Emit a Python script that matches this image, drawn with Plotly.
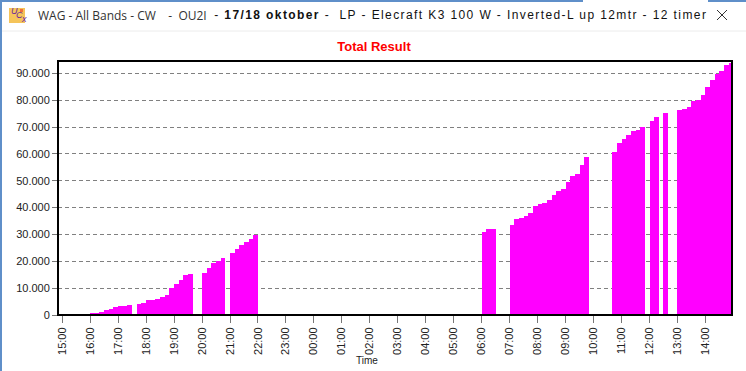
import plotly.graph_objects as go

# 10-minute bins starting at 15:00; 0 means no bar
hours = ["15","16","17","18","19","20","21","22","23","00","01","02","03","04","05","06","07","08","09","10","11","12","13","14"]
tick_labels = [h + ":00" for h in hours]
group_a = [400,400,1100,1900,2200,3000,3300,3400,3700,0,4100,4500,5600,5600,5950,6700,7400,10000,
           11500,13000,14800,15200,0,0,15600,17400,19300,20000,21100,0,23000,24500,26000,27100,28200,29700]
group_b = [30750,31850,32200,0,0,0,33700,35600,36300,37000,38150,40700,41500,41850,43000,44800,46300,47000,
           49600,51800,52600,55900,58900,0,0,0,0,0]
group_c = [60800,64000,65500,67000,68500,68900,70000,0,72300,73700,0,75200,0,0,
           76400,76700,77500,79700,80000,81900,84800,87400,89700,90800,93000,94000]
before = [0]*6
night = [0]*48
values = before + group_a + night + group_b + group_c
y_ticks = [0,10000,20000,30000,40000,50000,60000,70000,80000,90000]
y_labels = ["0","10.000","20.000","30.000","40.000","50.000","60.000","70.000","80.000","90.000"]
title_left = "WAG - All Bands - CW    -  OU2I"
title_right = "- <b>17/18 oktober</b> -  LP - Elecraft K3 100 W - Inverted-L up 12mtr - 12 timer"

W, H = 746, 371
L, R, T, B = 58, 732, 61, 315
def px(v): return (v - L) / (R - L)
def py(v): return (B - v) / (B - T)

def rect(x0, y0, x1, y1, color):
    return dict(type="rect", xref="paper", yref="paper", x0=px(x0), x1=px(x1), y0=py(y0), y1=py(y1),
                fillcolor=color, line=dict(width=0), layer="above")
def seg(x0, y0, x1, y1, color, width=1):
    return dict(type="line", xref="paper", yref="paper", x0=px(x0), x1=px(x1), y0=py(y0), y1=py(y1),
                line=dict(color=color, width=width), layer="above")
def note(text, x, y, size, color, family="Liberation Sans", anchor="left"):
    return dict(text=text, xref="paper", yref="paper", x=px(x), y=py(y), xanchor=anchor, yanchor="middle",
                showarrow=False, font=dict(size=size, color=color, family=family))

x = [i/6 + 1/12 for i in range(len(values))]
fig = go.Figure(go.Bar(x=x, y=values, width=1/6, marker=dict(color="#ff00ff", line=dict(width=0))))
fig.update_layout(
    width=W, height=H, autosize=False, paper_bgcolor="white", plot_bgcolor="white",
    margin=dict(l=L, r=W-R, t=T, b=H-B, autoexpand=False), showlegend=False, bargap=0,
    font=dict(family="Liberation Sans", size=11, color="#222222"),
    title=dict(text="<b>Total Result</b>", x=374/W, xanchor="center", y=1-46/H, yanchor="middle",
               font=dict(size=13, color="#ff0000", family="Liberation Sans")),
    xaxis=dict(range=[-0.15,23.95], tickmode="array", tickvals=list(range(24)), ticktext=tick_labels,
               tickangle=-90, ticks="outside", ticklen=7, tickcolor="#777777", showgrid=False, zeroline=False,
               showline=False, tickfont=dict(size=11, family="Liberation Sans")),
    yaxis=dict(range=[0,94600], tickmode="array", tickvals=y_ticks, ticktext=y_labels, showgrid=True,
               gridcolor="#808080", griddash="4px,3px", gridwidth=1, zeroline=False, showline=False,
               ticks="outside", ticklen=5, tickcolor="#777777", tickfont=dict(size=11, family="Liberation Sans")),
    shapes=[
        dict(type="rect", xref="paper", yref="paper", x0=0, x1=1, y0=0, y1=1, line=dict(color="black", width=2), layer="above"),
        seg(0, 1, 746, 1, "#5f8fc9", 2),
        seg(1, 0, 1, 371, "#5f8fc9", 2),
        rect(583, 0, 708, 2, "#ffffff"),
        seg(2, 31, 746, 31, "#ececec", 1),
        rect(9, 8, 25, 23, "#f5c45a"),
        rect(20, 9, 23, 12, "#f0703a"),
        seg(717, 10, 727, 20, "#333333", 1),
        seg(727, 10, 717, 20, "#333333", 1),
    ],
    annotations=[
        note(title_left, 36, 15, 12, "#333333", "Open Sans"),
        note(title_right, 461, 15, 12, "#111111", anchor="center"),
        note("<i>U</i>", 9, 11, 9, "#6a2a9a"),
        note("<i>C</i>", 14, 15, 9, "#6a2a9a"),
        note("<i>x</i>", 19, 19, 9, "#6a2a9a"),
        note("Time", 367, 360, 10, "#222222", anchor="center"),
    ],
)
script = ("document.body.style.margin='0';document.body.style.overflow='hidden';"
          "document.querySelectorAll('.annotation-text').forEach(function(t){"
          "if(t.textContent.indexOf('oktober')>=0){t.style.letterSpacing='1.4px';}});")
fig.write_html("out.html", post_script=script, config={"displayModeBar": False})
